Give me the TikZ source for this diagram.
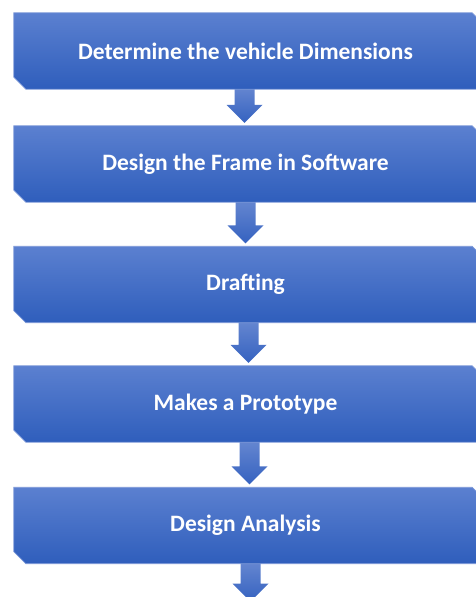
\documentclass[tikz,border=0pt]{standalone}
\usepackage{fontspec}
\newfontfamily\boxfont{Carlito}
\usetikzlibrary{calc,backgrounds}
\pgfdeclarelayer{boxes}
\pgfsetlayers{background,boxes,main}
\definecolor{boxtop}{HTML}{5B80D0}
\definecolor{boxbot}{HTML}{2F5EBC}
\definecolor{boxline}{HTML}{7C98D8}
\definecolor{arrtop}{HTML}{6A8AD2}
\definecolor{arrbot}{HTML}{3562C0}
\begin{document}
\begin{tikzpicture}[x=1pt,y=1pt,
  stepbox/.style={minimum width=463pt,minimum height=76pt,inner sep=0pt,
    text=white,font=\boxfont\bfseries\fontsize{23.5}{28}\selectfont},
  boxshade/.style={top color=boxtop,bottom color=boxbot,draw=boxline,line width=0.7pt},
  blockarrow/.style={top color=arrtop,bottom color=arrbot,
    to path={let \p1=(\tikztostart),\p2=(\tikztotarget) in
      (\x1-10,\y1) -- (\x1-10,\y2+18) -- (\x1-18,\y2+18) -- (\x1,\y2)
      -- (\x1+18,\y2+18) -- (\x1+10,\y2+18) -- (\x1+10,\y1) -- cycle}}]
\useasboundingbox (0,0) rectangle (475,597);
% the five steps
\foreach \yc/\txt/\nm in {546/Determine the vehicle Dimensions/b1,
  433/Design the Frame in Software/b2,
  312.5/Drafting/b3,
  193/Makes a Prototype/b4,
  71.5/Design Analysis/b5}
  \node[stepbox] (\nm) at (245.5,\yc) {\txt};
% snipped boxes behind the texts
\begin{pgfonlayer}{boxes}
\foreach \nm in {b1,b2,b3,b4,b5}
  \path[boxshade] (\nm.north west) -- ([xshift=-5]\nm.north east) -- ([yshift=-5]\nm.north east)
    -- (\nm.south east) -- ([xshift=12]\nm.south west) -- ([yshift=12]\nm.south west) -- cycle;
\end{pgfonlayer}
% block arrows between the steps
\coordinate (end) at ($(b5.south)+(5,-38)$);
\begin{pgfonlayer}{background}
\foreach \s/\t/\dx in {b1/b2/-1,b2/b3/0,b3/b4/3,b4/b5/4}
  \path[blockarrow] ($(\s.south)+(\dx,6)$) to ($(\t.north)+(\dx,3)$);
\path[blockarrow] ($(b5.south)+(5,6)$) to (end);
\end{pgfonlayer}
\end{tikzpicture}
\end{document}
